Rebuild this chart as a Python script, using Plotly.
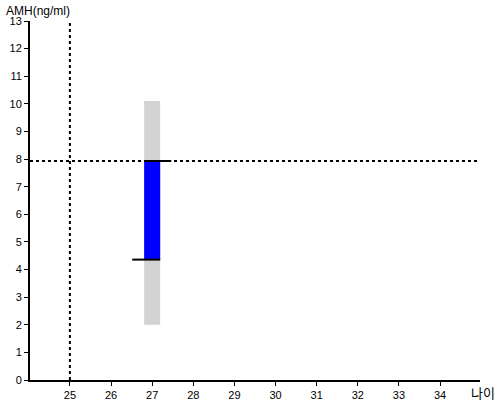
import plotly.graph_objects as go

# Data
age_ticks = [25, 26, 27, 28, 29, 30, 31, 32, 33, 34]
amh_ticks = list(range(0, 14))
patient_age = 27
range_low, range_high = 2.0, 10.1      # grey reference range
amh_low, amh_high = 4.36, 7.93         # blue measured span
ref_age = 25                            # vertical dotted line
ref_amh = 7.93                          # horizontal dotted line
bar_width = 0.39

fig = go.Figure()
fig.add_trace(go.Bar(x=[patient_age], y=[range_high - range_low], base=[range_low],
                     width=[bar_width], marker=dict(color="#d3d3d3", line=dict(width=0)),
                     hoverinfo="skip"))
fig.add_trace(go.Bar(x=[patient_age], y=[amh_high - amh_low], base=[amh_low],
                     width=[bar_width], marker=dict(color="#0000ff", line=dict(width=0)),
                     hoverinfo="skip"))
# top marker line (extends to the right)
fig.add_trace(go.Scatter(x=[patient_age - bar_width / 2, patient_age + bar_width / 2 + 0.27],
                         y=[amh_high, amh_high], mode="lines",
                         line=dict(color="black", width=2)))
# bottom marker line (extends to the left)
fig.add_trace(go.Scatter(x=[patient_age - bar_width / 2 - 0.29, patient_age + bar_width / 2],
                         y=[amh_low, amh_low], mode="lines",
                         line=dict(color="black", width=2)))
# dotted reference lines
fig.add_trace(go.Scatter(x=[24.03, 34.97], y=[ref_amh, ref_amh], mode="lines",
                         line=dict(color="black", width=2, dash="dot")))
fig.add_trace(go.Scatter(x=[ref_age, ref_age], y=[0, 13], mode="lines",
                         line=dict(color="black", width=2, dash="dot")))

font = dict(family="Liberation Sans, Arial, sans-serif", size=11, color="black")
fig.update_layout(
    width=500, height=400, showlegend=False, barmode="overlay",
    plot_bgcolor="white", paper_bgcolor="white",
    margin=dict(l=30, r=20, t=21, b=20, autoexpand=False),
    font=font,
    xaxis=dict(range=[24.03, 34.97], tickvals=age_ticks, ticks="outside", ticklen=4,
               tickcolor="black", showline=True, linecolor="black", linewidth=2,
               showgrid=False, zeroline=False, tickfont=font, automargin=False),
    yaxis=dict(range=[0, 13], tickvals=amh_ticks, ticks="outside", ticklen=4,
               tickcolor="black", showline=True, linecolor="black", linewidth=2,
               showgrid=False, zeroline=False, tickfont=font, automargin=False),
    annotations=[
        dict(text="AMH(ng/ml)", xref="paper", yref="paper", x=-0.058, y=1.0, yshift=10,
             xanchor="left", yanchor="middle", showarrow=False,
             font=dict(family="Liberation Sans, Arial, sans-serif", size=12, color="black")),
        dict(text="나이", xref="paper", yref="paper", x=1.0, y=0, yshift=-12, xshift=3,
             xanchor="center", yanchor="middle", showarrow=False,
             font=dict(family="Noto Sans CJK KR, sans-serif", size=13, color="black")),
    ],
)
fig.write_html("out.html", config={"displayModeBar": False},
               post_script="document.body.style.margin='0';")
